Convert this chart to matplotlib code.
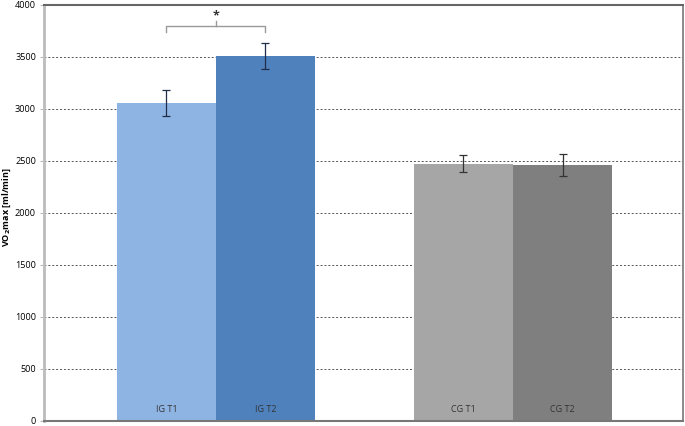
import numpy as np
import matplotlib.pyplot as plt

# group means and SD (VO2max, ml/min)
labels = ['IG T1', 'IG T2', 'CG T1', 'CG T2']
means = [3060, 3510, 2475, 2460]
errs = [125, 125, 85, 105]
colors = ['#8EB4E3', '#4F81BD', '#A6A6A6', '#7F7F7F']
xpos = np.array([0, 1, 3, 4])

plt.rcParams['font.family'] = ['Open Sans', 'DejaVu Sans']

fig = plt.figure(figsize=(6.85, 4.26), dpi=100)
ax = fig.add_axes([44/685, 5/426, 639/685, 416/426])

ax.bar(xpos, means, width=1.0, color=colors, zorder=2)
ax.errorbar(xpos[:2], means[:2], yerr=errs[:2], fmt='none', ecolor='#1F2D4A',
            elinewidth=0.9, capsize=3, capthick=0.9, zorder=3)
ax.errorbar(xpos[2:], means[2:], yerr=errs[2:], fmt='none', ecolor='#333333',
            elinewidth=0.9, capsize=3, capthick=0.9, zorder=3)

for x, lab in zip(xpos, labels):
    ax.text(x, 115, lab, ha='center', va='center', fontsize=6.5, color='#333333', zorder=4)

ax.set_xlim(-1.237, 5.217)
ax.set_ylim(0, 4000)
ax.set_yticks(np.arange(0, 4001, 500))
ax.tick_params(axis='y', labelsize=6.6, length=3, color='#BBBBBB', pad=2.8)
ax.set_xticks([])
for y in np.arange(500, 4000, 500):
    ax.axhline(y, color='#555555', lw=0.7, ls=(0, (2, 2)), zorder=1)

ax.spines['left'].set_color('#BBBBBB')
ax.spines['left'].set_linewidth(2)
ax.spines['bottom'].set_color('#777777')
ax.spines['bottom'].set_linewidth(1.5)
ax.spines['top'].set_color('#666666')
ax.spines['top'].set_linewidth(1.5)
ax.spines['right'].set_color('#777777')
ax.spines['right'].set_linewidth(1.2)

ax.set_ylabel(r'VO$_\mathbf{2}$max [ml/min]', fontsize=6.5, fontweight='bold')
ax.yaxis.set_label_coords(-0.049, 0.514)

# significance bracket
bx0, bx1, by = 0, 1, 3795
ax.plot([bx0, bx0, bx1, bx1], [by - 50, by, by, by - 50], color='#999999', lw=1, zorder=3)
ax.plot([0.5, 0.5], [by, by + 50], color='#999999', lw=1, zorder=3)
ax.text(0.5, 3900, '*', ha='center', va='center', fontsize=9, fontweight='bold', color='#333333')

fig.savefig('out.png', dpi=100)
